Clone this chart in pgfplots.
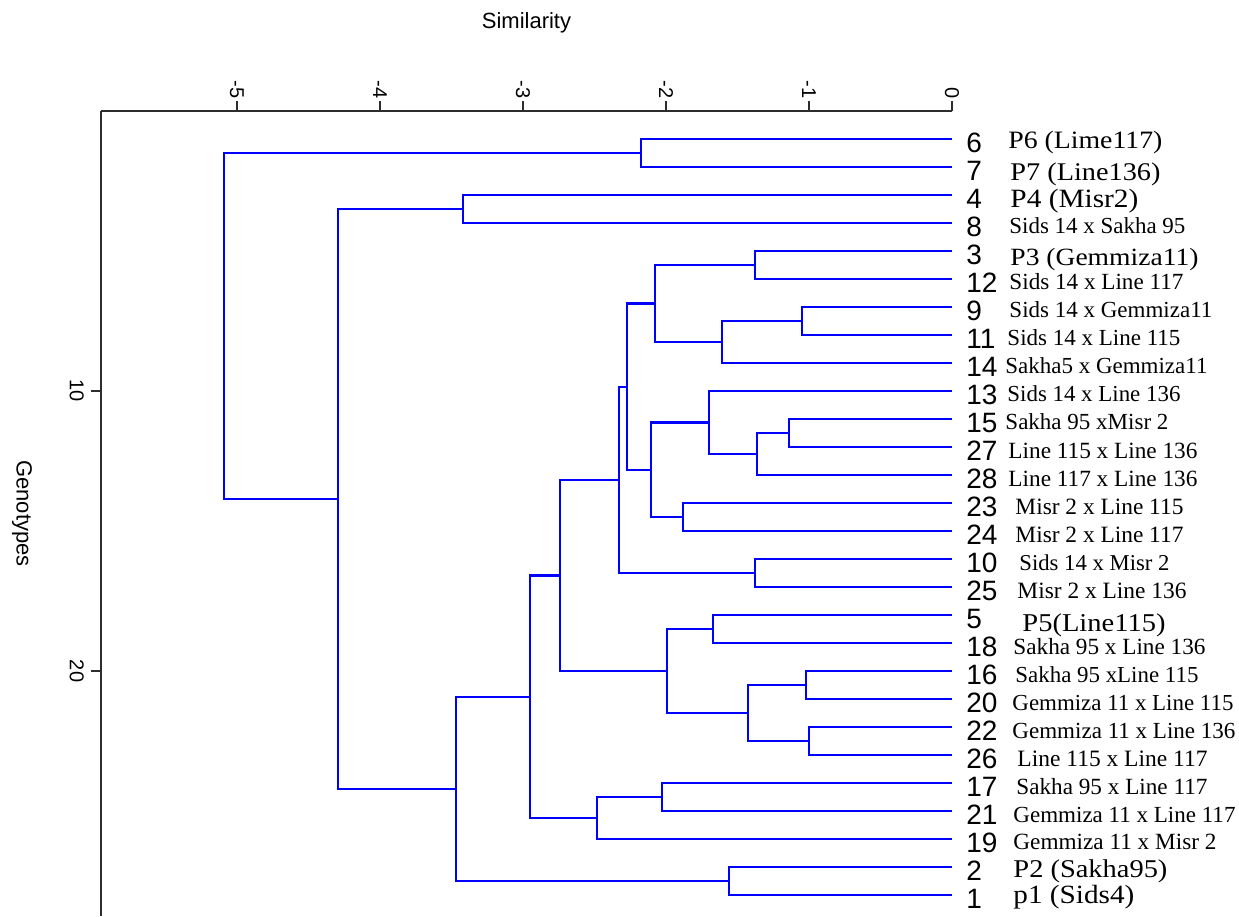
\documentclass[border=0pt]{standalone}
\usepackage{fontspec}
\setmainfont{Liberation Serif}
\setsansfont{Liberation Sans}
\usepackage{graphicx}
\usepackage{pgfplots}
\pgfplotsset{compat=1.18}
\definecolor{dendro}{RGB}{0,0,255}
\definecolor{axisgray}{RGB}{45,45,45}
\newcommand\leaf[6]{%
  \node[anchor=base west, inner sep=0pt, yshift=-6.75pt, font=\sffamily\fontsize{14}{16}\selectfont] at (axis cs:0.098,#1) {#2};
  \node[anchor=base west, inner sep=0pt, yshift=-#4pt] at (axis cs:#3,#1) {\resizebox{#5pt}{!}{#6}};
}
\newcommand\pleaf[6]{%
  \node[anchor=base west, inner sep=0pt, yshift=-6.75pt, font=\sffamily\fontsize{14}{16}\selectfont] at (axis cs:0.098,#1) {#2};
  \node[anchor=base west, inner sep=0pt, yshift=-#4pt] at (axis cs:#3,#1) {\scalebox{1}[0.9]{\resizebox{#5pt}{!}{#6}}};
}
\pgfplotsset{dline/.style={dendro, solid, line width=1.1pt, line join=miter, mark=none}}
\begin{document}
\begin{tikzpicture}
\begin{axis}[
  scale only axis,
  width=425.5pt, height=402.5pt,
  xmin=-5.951, xmax=0,
  ymin=0, ymax=28.75,
  y dir=reverse,
  axis x line=top, axis y line=left,
  axis line style={-, axisgray, line width=1.2pt},
  tick style={axisgray, line width=1.2pt},
  tick align=outside,
  major tick length=5pt,
  xtick={-5,-4,-3,-2,-1,0},
  xticklabels={-5,-4,-3,-2,-1,0},
  ytick={10,20},
  yticklabels={10,20},
  xticklabel style={rotate=-90, anchor=east, inner sep=1pt, font=\sffamily\fontsize{10}{12}\selectfont},
  yticklabel style={rotate=-90, anchor=north, font=\sffamily\fontsize{10}{12}\selectfont},
  xlabel={Similarity}, ylabel={Genotypes},
  xlabel style={at={(axis description cs:0.5,1.1093)}, anchor=center, font=\sffamily\fontsize{11}{13}\selectfont},
  ylabel style={at={(axis description cs:-0.0928,0.5)}, anchor=center, rotate=180, font=\sffamily\fontsize{11}{13}\selectfont},
  clip=false,
]
% leaf pairs and merges
\addplot[dline] coordinates {(0,1) (-2.175,1) (-2.175,2) (0,2)};
\addplot[dline] coordinates {(0,3) (-3.42,3) (-3.42,4) (0,4)};
\addplot[dline] coordinates {(0,5) (-1.378,5) (-1.378,6) (0,6)};
\addplot[dline] coordinates {(0,7) (-1.049,7) (-1.049,8) (0,8)};
\addplot[dline] coordinates {(-1.049,7.5) (-1.608,7.5) (-1.608,9) (0,9)};
\addplot[dline] coordinates {(-1.378,5.5) (-2.077,5.5) (-2.077,8.25) (-1.608,8.25)};
\addplot[dline] coordinates {(0,11) (-1.14,11) (-1.14,12) (0,12)};
\addplot[dline] coordinates {(-1.14,11.5) (-1.364,11.5) (-1.364,13) (0,13)};
\addplot[dline] coordinates {(0,10) (-1.70,10) (-1.70,12.25) (-1.364,12.25)};
\addplot[dline] coordinates {(0,14) (-1.881,14) (-1.881,15) (0,15)};
\addplot[dline] coordinates {(-1.70,11.125) (-2.105,11.125) (-2.105,14.5) (-1.881,14.5)};
\addplot[dline] coordinates {(-2.077,6.875) (-2.273,6.875) (-2.273,12.8125) (-2.105,12.8125)};
\addplot[dline] coordinates {(0,16) (-1.378,16) (-1.378,17) (0,17)};
\addplot[dline] coordinates {(-2.273,9.84375) (-2.329,9.84375) (-2.329,16.5) (-1.378,16.5)};
\addplot[dline] coordinates {(0,18) (-1.671,18) (-1.671,19) (0,19)};
\addplot[dline] coordinates {(0,20) (-1.021,20) (-1.021,21) (0,21)};
\addplot[dline] coordinates {(0,22) (-1.0,22) (-1.0,23) (0,23)};
\addplot[dline] coordinates {(-1.021,20.5) (-1.427,20.5) (-1.427,22.5) (-1.0,22.5)};
\addplot[dline] coordinates {(-1.671,18.5) (-1.993,18.5) (-1.993,21.5) (-1.427,21.5)};
\addplot[dline] coordinates {(-2.329,13.171875) (-2.741,13.171875) (-2.741,20) (-1.993,20)};
\addplot[dline] coordinates {(0,24) (-2.028,24) (-2.028,25) (0,25)};
\addplot[dline] coordinates {(-2.028,24.5) (-2.483,24.5) (-2.483,26) (0,26)};
\addplot[dline] coordinates {(-2.741,16.5859) (-2.951,16.5859) (-2.951,25.25) (-2.483,25.25)};
\addplot[dline] coordinates {(0,27) (-1.559,27) (-1.559,28) (0,28)};
\addplot[dline] coordinates {(-2.951,20.918) (-3.469,20.918) (-3.469,27.5) (-1.559,27.5)};
\addplot[dline] coordinates {(-3.42,3.5) (-4.294,3.5) (-4.294,24.209) (-3.469,24.209)};
\addplot[dline] coordinates {(-2.175,1.5) (-5.091,1.5) (-5.091,13.8545) (-4.294,13.8545)};
% leaf labels
\pleaf{1}{6}{0.392}{5}{77}{P6 (Lime117)}
\pleaf{2}{7}{0.406}{7}{75}{P7 (Line136)}
\pleaf{3}{4}{0.406}{6.5}{64}{P4 (Misr2)}
\leaf{4}{8}{0.399}{5.5}{88}{Sids 14 x Sakha 95}
\pleaf{5}{3}{0.406}{7.5}{94}{P3 (Gemmiza11)}
\leaf{6}{12}{0.399}{5.5}{87}{Sids 14 x Line 117}
\leaf{7}{9}{0.399}{5.5}{101.5}{Sids 14 x Gemmiza11}
\leaf{8}{11}{0.385}{5.5}{86.5}{Sids 14 x Line 115}
\leaf{9}{14}{0.371}{5.5}{101}{Sakha5 x Gemmiza11}
\leaf{10}{13}{0.385}{5.5}{86.5}{Sids 14 x Line 136}
\leaf{11}{15}{0.371}{5.5}{81.5}{Sakha 95 xMisr 2}
\leaf{12}{27}{0.392}{5.5}{94.5}{Line 115 x Line 136}
\leaf{13}{28}{0.392}{5.5}{94.5}{Line 117 x Line 136}
\leaf{14}{23}{0.441}{5.5}{84}{Misr 2 x Line 115}
\leaf{15}{24}{0.441}{5.5}{84}{Misr 2 x Line 117}
\leaf{16}{10}{0.469}{5.5}{75}{Sids 14 x Misr 2}
\leaf{17}{25}{0.455}{5.5}{84.5}{Misr 2 x Line 136}
\pleaf{18}{5}{0.490}{8}{71.5}{P5(Line115)}
\leaf{19}{18}{0.427}{5.5}{96}{Sakha 95 x Line 136}
\leaf{20}{16}{0.441}{5.5}{91.5}{Sakha 95 xLine 115}
\leaf{21}{20}{0.420}{5.5}{110.5}{Gemmiza 11 x Line 115}
\leaf{22}{22}{0.420}{5.5}{111.5}{Gemmiza 11 x Line 136}
\leaf{23}{26}{0.455}{5.5}{95}{Line 115 x Line 117}
\leaf{24}{17}{0.448}{5.5}{95.5}{Sakha 95 x Line 117}
\leaf{25}{21}{0.427}{5.5}{111}{Gemmiza 11 x Line 117}
\leaf{26}{19}{0.427}{5}{101.5}{Gemmiza 11 x Misr 2}
\pleaf{27}{2}{0.427}{5}{77}{P2 (Sakha95)}
\pleaf{28}{1}{0.427}{4}{60.5}{p1 (Sids4)}
\coordinate (bbtl) at (axis cs:-6.657,-3.964);
\coordinate (bbbr) at (axis cs:2.007,28.75);
\end{axis}
\pgfresetboundingbox
\useasboundingbox (bbtl) rectangle (bbbr);
\end{tikzpicture}
\end{document}
